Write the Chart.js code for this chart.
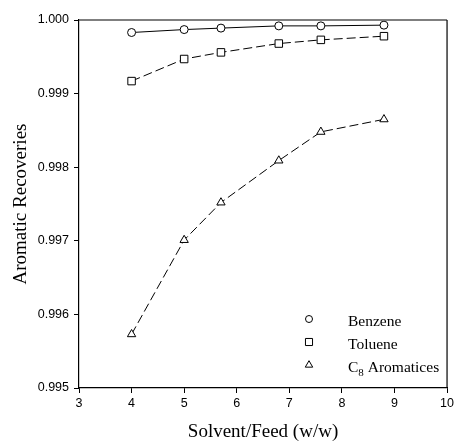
<!DOCTYPE html>
<html><head><meta charset="utf-8">
<script src="https://cdn.jsdelivr.net/npm/chart.js@4"></script>
<style>html,body{margin:0;padding:0;background:#fff}#wrap{width:457px;height:443px}</style>
</head><body><div id="wrap"><canvas id="c" width="457" height="443"></canvas></div>
<script>
const solventFeed = [4, 5, 5.7, 6.8, 7.6, 8.8];
const benzene = [0.99983, 0.99987, 0.99989, 0.99992, 0.99992, 0.99993];
const toluene = [0.99917, 0.99947, 0.99956, 0.99968, 0.99973, 0.99978];
const c8Aromatics = [0.99573, 0.99701, 0.99752, 0.99809, 0.99848, 0.99865];
const seriesNames = ['Benzene', 'Toluene', 'C8 Aromatices'];
const xTicks = [3, 4, 5, 6, 7, 8, 9, 10];
const yTicks = [0.995, 0.996, 0.997, 0.998, 0.999, 1.000];

const toPts = ys => solventFeed.map((x, i) => ({x, y: ys[i]}));

const frame = {
  id: 'frame',
  afterDraw(chart) {
    const {ctx, chartArea: a} = chart;
    ctx.save();
    ctx.strokeStyle = '#555';
    ctx.lineWidth = 1.5;
    ctx.beginPath(); ctx.moveTo(a.left, a.top); ctx.lineTo(a.right, a.top); ctx.stroke();
    ctx.strokeStyle = '#000';
    ctx.lineWidth = 1.2;
    ctx.beginPath(); ctx.moveTo(a.right, a.top); ctx.lineTo(a.right, a.bottom); ctx.stroke();
    // legend
    const mx = 309, tx = 348, rows = [321, 344, 367];
    const styles = ['circle', 'rect', 'triangle'];
    const radii = [3.5, 5, 4.3];
    const serif = '"Liberation Serif", serif';
    ctx.fillStyle = '#000';
    ctx.font = '15.5px ' + serif;
    ctx.textBaseline = 'middle';
    rows.forEach((y, i) => {
      ctx.save();
      ctx.strokeStyle = '#000'; ctx.lineWidth = 1; ctx.fillStyle = '#fff';
      Chart.helpers.drawPoint(ctx, {pointStyle: styles[i], radius: radii[i], borderWidth: 1}, mx, y - 2);
      ctx.restore();
      if (i < 2) {
        ctx.fillText(seriesNames[i], tx, y + 1);
      } else {
        ctx.fillText('C', tx, y + 1);
        const w = ctx.measureText('C').width;
        ctx.font = '11px ' + serif;
        ctx.fillText('8', tx + w, y + 6);
        const w2 = ctx.measureText('8').width;
        ctx.font = '15.5px ' + serif;
        ctx.fillText(' Aromatices', tx + w + w2, y + 1);
      }
    });
    ctx.restore();
  }
};

const common = {borderColor: '#000', borderWidth: 1, pointBackgroundColor: '#fff', pointBorderColor: '#000', pointBorderWidth: 1, fill: false, tension: 0};
const tickFont = {family: '"Liberation Sans", Arial, sans-serif', size: 12.5};
const titleFont = {family: '"Liberation Serif", serif', size: 19};

new Chart(document.getElementById('c'), {
  type: 'line',
  data: {
    datasets: [
      {...common, label: seriesNames[0], data: toPts(benzene), pointStyle: 'circle', pointRadius: 4},
      {...common, label: seriesNames[1], data: toPts(toluene), pointStyle: 'rect', pointRadius: 5.3, borderDash: [9, 4]},
      {...common, label: seriesNames[2], data: toPts(c8Aromatics), pointStyle: 'triangle', pointRadius: 4.8, borderDash: [9, 4]}
    ]
  },
  options: {
    responsive: false,
    animation: false,
    layout: {padding: {top: 20, right: 9, left: 0, bottom: 0}},
    plugins: {legend: {display: false}, tooltip: {enabled: false}},
    scales: {
      x: {
        type: 'linear', min: 3, max: 10,
        afterBuildTicks: s => { s.ticks = xTicks.map(v => ({value: v})); },
        afterFit: s => { s.height = 55; },
        grid: {display: true, drawOnChartArea: false, drawTicks: true, tickLength: 5, color: '#000', tickWidth: 1},
        border: {display: true, color: '#000', width: 1.2},
        ticks: {color: '#000', font: tickFont, padding: 3, maxRotation: 0},
        title: {display: true, text: 'Solvent/Feed (w/w)', color: '#000', font: titleFont, padding: {top: 4, bottom: 0}}
      },
      y: {
        type: 'linear', min: 0.995, max: 1.000,
        afterBuildTicks: s => { s.ticks = yTicks.map(v => ({value: v})); },
        afterFit: s => { s.width = 79; },
        grid: {display: true, drawOnChartArea: false, drawTicks: true, tickLength: 5, color: '#000', tickWidth: 1},
        border: {display: true, color: '#000', width: 1.2},
        ticks: {color: '#000', font: tickFont, padding: 5, callback: v => v.toFixed(3)},
        title: {display: true, text: 'Aromatic Recoveries', color: '#000', font: titleFont, padding: {top: 10, bottom: 0}}
      }
    }
  },
  plugins: [frame]
});
</script>
</body></html>
